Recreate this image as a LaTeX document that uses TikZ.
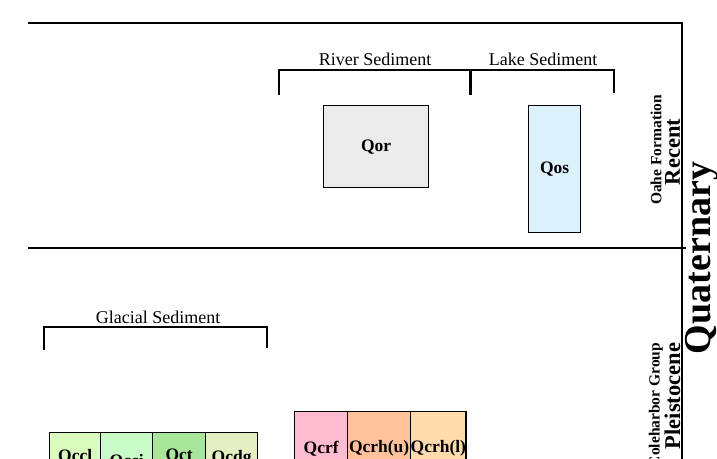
\documentclass[tikz,border=0pt]{standalone}
\usepackage{fontspec}
\setmainfont{Liberation Serif}
\usetikzlibrary{positioning}

\definecolor{qorfill}{HTML}{EBEBEB}
\definecolor{qosfill}{HTML}{DDF1FD}
\definecolor{qcclfill}{HTML}{DAFBBE}
\definecolor{qccifill}{HTML}{C9FCC6}
\definecolor{qctfill}{HTML}{A8E69A}
\definecolor{qcdgfill}{HTML}{E6EEC3}
\definecolor{qcrffill}{HTML}{FFBBCF}
\definecolor{qcrhufill}{HTML}{FFC29A}
\definecolor{qcrhlfill}{HTML}{FFDBAC}

\begin{document}
\begin{tikzpicture}[x=1pt,y=-1pt]
	\tikzset{frame/.style={line width=1.5pt, black}}
	\tikzset{brace/.style={line width=1.5pt, black}}
	\tikzset{unit/.style={draw, line width=1.3pt, anchor=north west, inner sep=0pt, font=\bfseries\fontsize{17.5}{19}\selectfont}}
	\tikzset{group/.style={font=\fontsize{18}{20}\selectfont}}
	\tikzset{formation/.style={rotate=90, font=\bfseries\fontsize{15.5}{17}\selectfont}}
	\tikzset{epoch/.style={rotate=90, font=\bfseries\fontsize{22.5}{24}\selectfont}}

	\useasboundingbox (0,0) rectangle (717,458);
	\clip (0,0) rectangle (717,458);

	% frame
	\coordinate (tl) at (28,23);
	\coordinate (tr) at (682,23);
	\coordinate (br) at (682,460);
	\coordinate (ml) at (28,248);
	\coordinate (mr) at (686,248);
	\draw[frame] (tl) -- (tr) -- (br);
	\draw[frame] (ml) -- (mr);

	% brackets
	\coordinate (rivA) at (279,95);
	\coordinate (rivB) at (470,95);
	\coordinate (lakB) at (614,93);
	\coordinate (glaA) at (44,350);
	\coordinate (glaB) at (267,348);
	\draw[brace] (rivA) -- ++(0,-25) -| (rivB);
	\draw[brace] (rivB) ++(1,0) -- ++(0,-25) -| (lakB);
	\draw[brace] (glaA) -- ++(0,-23) -| (glaB);
	\node (river) [group] at (375,59) {River Sediment};
	\node (lake) [group] at (543,59) {Lake Sediment};
	\node (glacial) [group] at (158,317) {Glacial Sediment};

	% recent units
	\node (qor) [unit, fill=qorfill, minimum width=105, minimum height=82] at (323,105) {Qor};
	\node (qos) [unit, fill=qosfill, minimum width=52, minimum height=127] at (528,105) {Qos};

	% pleistocene units
	\node (qccl) [unit, fill=qcclfill, minimum width=51, minimum height=48] at (49,432) {Qccl};
	\node (qcci) [unit, fill=qccifill, minimum width=52, minimum height=58] at (100,432) {Qcci};
	\node (qct) [unit, fill=qctfill, minimum width=53, minimum height=46] at (152,432) {Qct};
	\node (qcdg) [unit, fill=qcdgfill, minimum width=52, minimum height=52] at (205,432) {Qcdg};
	\node (qcrf) [unit, fill=qcrffill, minimum width=53, minimum height=74] at (294,411) {Qcrf};
	\node (qcrhu) [unit, fill=qcrhufill, minimum width=63, minimum height=74] at (347,411) {Qcrh(u)};
	\node (qcrhl) [unit, fill=qcrhlfill, minimum width=55, minimum height=74] at (410,411) {Qcrh(l)};

	% time scale
	\node (oahe) [formation] at (656,150) {Oahe Formation};
	\node (recent) [epoch] at (672.5,152) {Recent};
	\node (colehar) [formation] at (656,405) {Coleharbor Group};
	\node (pleisto) [epoch] at (672.5,396) {Pleistocene};
	\node (quat) [rotate=90, font=\bfseries\fontsize{38}{40}\selectfont] at (702,258) {Quaternary};
\end{tikzpicture}
\end{document}
